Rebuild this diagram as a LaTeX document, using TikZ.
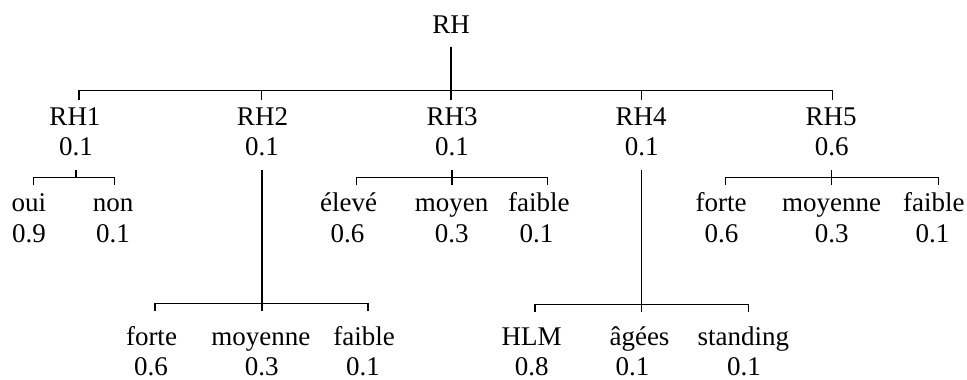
\documentclass[tikz,border=0pt]{standalone}
\usepackage{fontspec}
\setmainfont{Liberation Serif}
\usetikzlibrary{calc}
\begin{document}
\begin{tikzpicture}[x=1pt,y=-1pt,
  lab/.style={inner sep=0pt, anchor=base, font=\fontsize{27}{32}\selectfont},
  val/.style={lab, text depth=0pt},
  edge/.style={line width=1.4pt}]
\useasboundingbox (0,0) rectangle (967,380);
% root
\node[lab] (rh) at (451,33.3) {RH};
% level 1
\node[lab] (rh1) at (75,125) {RH1};   \node[val] (rh1v) at (76,155) {0.1};
\node[lab] (rh2) at (262.5,125) {RH2}; \node[val] (rh2v) at (262,155) {0.1};
\node[lab] (rh3) at (452,125) {RH3};   \node[val] (rh3v) at (452,155) {0.1};
\node[lab] (rh4) at (641,125) {RH4};   \node[val] (rh4v) at (641.7,155) {0.1};
\node[lab] (rh5) at (831,125) {RH5};   \node[val] (rh5v) at (831.7,155) {0.6};
% RH1 children
\node[lab] (oui) at (29,211.7) {oui};  \node[val] (ouiv) at (29,242) {0.9};
\node[lab] (non) at (113,211.7) {non}; \node[val] (nonv) at (113,242) {0.1};
% RH3 children
\node[lab] (eleve) at (348.7,211.7) {élevé};  \node[val] (elevev) at (347.5,242) {0.6};
\node[lab] (moyen) at (451.7,211.7) {moyen};  \node[val] (moyenv) at (451.7,242) {0.3};
\node[lab] (faib3) at (538.8,211.7) {faible}; \node[val] (faib3v) at (536.5,242) {0.1};
% RH5 children
\node[lab] (fort5) at (721,211.7) {forte};    \node[val] (fort5v) at (721.5,242) {0.6};
\node[lab] (moy5) at (831.7,211.7) {moyenne}; \node[val] (moy5v) at (831.7,242) {0.3};
\node[lab] (faib5) at (933.8,211.7) {faible}; \node[val] (faib5v) at (932.5,242) {0.1};
% RH2 children
\node[lab] (fort2) at (151.5,345) {forte};    \node[val] (fort2v) at (151,375) {0.6};
\node[lab] (moy2) at (260.8,345) {moyenne};   \node[val] (moy2v) at (261.7,375) {0.3};
\node[lab] (faib2) at (364.2,345) {faible};   \node[val] (faib2v) at (363,375) {0.1};
% RH4 children
\node[lab] (hlm) at (531.7,345) {HLM};          \node[val] (hlmv) at (531.7,375) {0.8};
\node[lab] (agees) at (639.5,345) {âgées};      \node[val] (ageesv) at (632.5,375) {0.1};
\node[lab] (stand) at (743.3,345) {standing};   \node[val] (standv) at (744,375) {0.1};

% junctions and tick tips
\coordinate (j0) at (451,90.7);
\coordinate (t1) at (79,100);   \coordinate (t2) at (261.7,100); \coordinate (t3) at (451,100);
\coordinate (t4) at (641.7,100); \coordinate (t5) at (832.3,100);
\coordinate (j1) at (76,177.7);
\coordinate (toui) at (33.7,185.3); \coordinate (tnon) at (114.3,185.3);
\coordinate (j2) at (262,303.3);
\coordinate (tfort2) at (155,310.7); \coordinate (tmoy2) at (262,310.7); \coordinate (tfaib2) at (368,310.7);
\coordinate (j3) at (452,177.7);
\coordinate (televe) at (356.7,185.3); \coordinate (tmoyen) at (452,185.3); \coordinate (tfaib3) at (547.3,185.3);
\coordinate (j4) at (641.7,304.3);
\coordinate (thlm) at (535,311.7); \coordinate (tagees) at (641.7,311.7); \coordinate (tstand) at (748.3,311.7);
\coordinate (j5) at (831.7,177.7);
\coordinate (tfort5) at (725.3,185.3); \coordinate (tmoy5) at (831.7,185.3); \coordinate (tfaib5) at (938.3,185.3);

% root fork
\draw[edge] ($(rh.base)+(0,13.4)$) -- (j0) -- (t3);
\draw[edge] (t1) |- (j0) -| (t5);
\draw[edge] (t2) -- (t2 |- j0);
\draw[edge] (t4) -- (t4 |- j0);
% RH1 fork
\draw[edge] ($(rh1v.base)+(0,15)$) -- (j1);
\draw[edge] (toui) |- (j1) -| (tnon);
% RH2 fork
\draw[edge] ($(rh2v.base)+(0,15)$) -- (j2) -- (tmoy2);
\draw[edge] (tfort2) |- (j2) -| (tfaib2);
% RH3 fork
\draw[edge] ($(rh3v.base)+(0,15)$) -- (j3) -- (tmoyen);
\draw[edge] (televe) |- (j3) -| (tfaib3);
% RH4 fork
\draw[edge] ($(rh4v.base)+(0,15)$) -- (j4) -- (tagees);
\draw[edge] (thlm) |- (j4) -| (tstand);
% RH5 fork
\draw[edge] ($(rh5v.base)+(0,15)$) -- (j5) -- (tmoy5);
\draw[edge] (tfort5) |- (j5) -| (tfaib5);
\end{tikzpicture}
\end{document}
